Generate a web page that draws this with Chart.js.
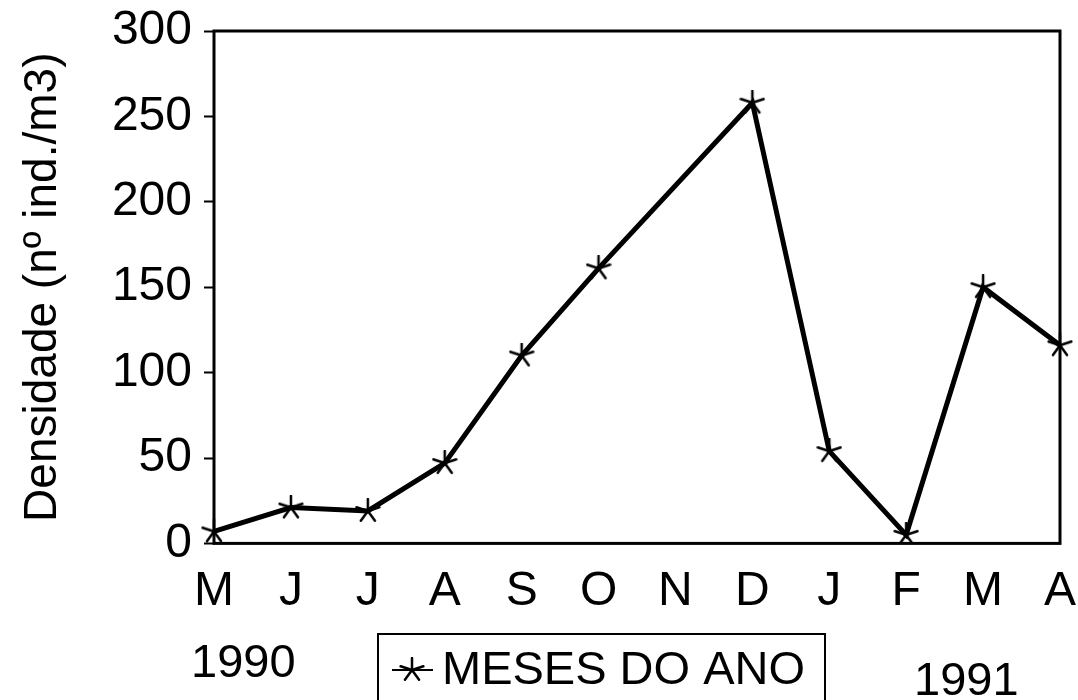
<!DOCTYPE html>
<html>
<head>
<meta charset="utf-8">
<script src="https://cdn.jsdelivr.net/npm/chart.js@4"></script>
<style>
  body { margin: 0; background: #fff; }
  #caixa { width: 1078px; height: 700px; }
</style>
</head>
<body>
<div id="caixa"><canvas id="grafico" width="1078" height="700"></canvas></div>
<script>
// dados
const meses = ['M', 'J', 'J', 'A', 'S', 'O', 'N', 'D', 'J', 'F', 'M', 'A'];
const densidade = [7, 21, 19, 47, 110, 161, null, 258, 54, 5, 150, 116];
const anos = ['1990', '1991'];
const escalaY = [0, 300, 50]; // min, max, passo
const tituloY = 'Densidade (nº ind./m3)';
const nomeSerie = 'MESES DO ANO';

const fonte = "'Liberation Sans', Arial, sans-serif";

// marcador em forma de asterisco (5 braços)
function criarAsterisco(tam) {
    const c = document.createElement('canvas');
    c.width = tam;
    c.height = tam;
    const g = c.getContext('2d');
    const r = tam / 2 - 1;
    g.strokeStyle = '#000';
    g.lineWidth = 2.5;
    g.lineCap = 'round';
    for (let i = 0; i < 5; i++) {
        const ang = -Math.PI / 2 + i * 2 * Math.PI / 5;
        g.beginPath();
        g.moveTo(tam / 2, tam / 2);
        g.lineTo(tam / 2 + r * Math.cos(ang), tam / 2 + r * Math.sin(ang));
        g.stroke();
    }
    return c;
}

const asterisco = criarAsterisco(26);

const extras = {
    id: 'extras',
    afterDraw(chart) {
        const ctx = chart.ctx;
        const a = chart.chartArea;
        ctx.save();
        // moldura da área do gráfico
        ctx.strokeStyle = '#000';
        ctx.lineWidth = 3;
        ctx.strokeRect(a.left, a.top, a.right - a.left, a.bottom - a.top);

        ctx.fillStyle = '#000';
        ctx.font = '47px ' + fonte;
        ctx.textBaseline = 'middle';
        ctx.textAlign = 'left';
        ctx.fillText(anos[0], 191, 664);
        ctx.fillText(anos[1], 914, 682);

        // legenda
        ctx.lineWidth = 2;
        ctx.strokeRect(378, 634, 447, 80);
        ctx.beginPath();
        ctx.moveTo(392, 670);
        ctx.lineTo(433, 670);
        ctx.stroke();
        ctx.drawImage(asterisco, 412 - 13, 670 - 13);
        ctx.fillText(chart.data.datasets[0].label, 442, 671);
        ctx.restore();
    }
};

const ctx = document.getElementById('grafico').getContext('2d');
new Chart(ctx, {
    type: 'line',
    data: {
        labels: meses,
        datasets: [{
            label: nomeSerie,
            data: densidade,
            borderColor: '#000',
            borderWidth: 5,
            spanGaps: true,
            tension: 0,
            pointStyle: asterisco,
            pointRadius: 13
        }]
    },
    options: {
        responsive: false,
        animation: false,
        layout: {
            padding: { top: 31, right: 16, bottom: 67, left: 0 }
        },
        plugins: {
            legend: { display: false },
            tooltip: { enabled: false }
        },
        scales: {
            x: {
                offset: false,
                grid: { display: false },
                border: { display: false },
                ticks: {
                    color: '#000',
                    font: { family: fonte, size: 48 },
                    padding: 12,
                    maxRotation: 0,
                    autoSkip: false
                },
                afterFit(scale) {
                    scale.paddingLeft = 0;
                    scale.paddingRight = 0;
                }
            },
            y: {
                min: escalaY[0],
                max: escalaY[1],
                border: { display: false },
                grid: {
                    drawOnChartArea: false,
                    drawTicks: true,
                    tickLength: 10,
                    tickWidth: 2,
                    tickColor: '#000'
                },
                ticks: {
                    stepSize: escalaY[2],
                    color: '#000',
                    font: { family: fonte, size: 48 },
                    padding: 12
                },
                title: {
                    display: true,
                    text: tituloY,
                    color: '#000',
                    font: { family: fonte, size: 46 },
                    padding: { top: 16, bottom: 0 }
                },
                afterFit(scale) {
                    scale.width = 214;
                    scale.paddingTop = 0;
                    scale.paddingBottom = 0;
                }
            }
        }
    },
    plugins: [extras]
});
</script>
</body>
</html>
